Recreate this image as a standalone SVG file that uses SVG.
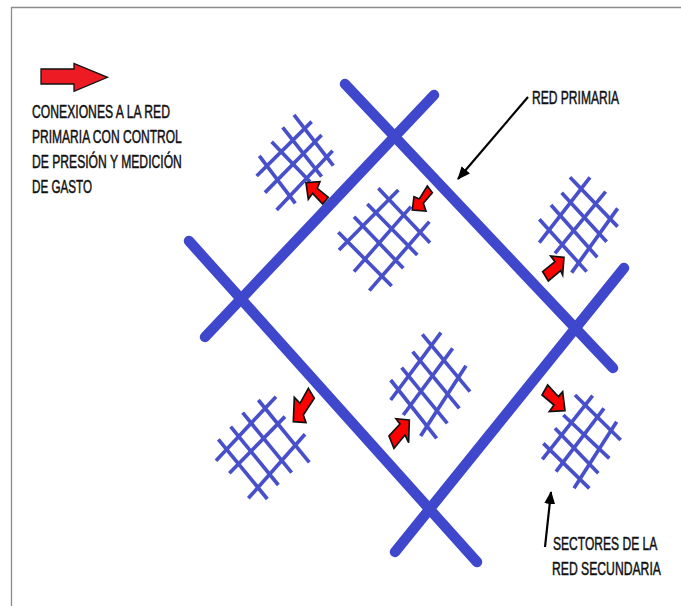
<svg xmlns="http://www.w3.org/2000/svg" width="681" height="606" viewBox="0 0 681 606">
<style>
.main{stroke:#3f48cc;stroke-width:10.500;stroke-linecap:round;fill:none}
.grid line{stroke:#474fca;stroke-width:11;stroke-linecap:butt}
.red{fill:#ff0000;stroke:#111;stroke-width:5;stroke-linejoin:miter}
.call{stroke:#000;stroke-width:2.200;fill:none;marker-end:url(#ah)}
text{font-family:"Liberation Sans",Arial,sans-serif;font-size:19px;fill:#111;stroke:#111;stroke-width:.5}
</style>
<defs>
<marker id="ah" markerUnits="userSpaceOnUse" markerWidth="14" markerHeight="12" refX="12" refY="5.500" orient="auto"><path d="M0 0L13 5.500L0 11Z" fill="#000"/></marker>
</defs>
<rect width="681" height="606" fill="#fff"/>
<path d="M11.500 606V7.500H681" fill="none" stroke="#8c8c8c" stroke-width="1.300"/>
<g id="connectors">
<line class="main" x1="345" y1="84" x2="613" y2="368"/>
<line class="main" x1="205" y1="337" x2="434" y2="95"/>
<line class="main" x1="189" y1="241" x2="477" y2="562"/>
<line class="main" x1="395" y1="552" x2="624" y2="268"/>
<line class="call" x1="528" y1="97" x2="458" y2="179"/>
<line class="call" x1="545" y1="547" x2="551" y2="492"/>
</g>
<g id="sector-1" class="grid" transform="scale(.3333)">
<line x1="882" y1="345" x2="1000" y2="497"/><line x1="848" y1="382" x2="965" y2="530"/><line x1="815" y1="425" x2="930" y2="545"/><line x1="778" y1="468" x2="886" y2="610"/>
<line x1="770" y1="528" x2="935" y2="365"/><line x1="795" y1="578" x2="965" y2="405"/><line x1="830" y1="630" x2="998" y2="452"/>
</g>
<g id="sector-2" class="grid" transform="translate(340 0) scale(.3333)">
<line x1="115" y1="565" x2="270" y2="728"/><line x1="82" y1="612" x2="232" y2="765"/><line x1="42" y1="650" x2="190" y2="805"/><line x1="-5" y1="697" x2="155" y2="858"/>
<line x1="-3" y1="750" x2="175" y2="570"/><line x1="42" y1="815" x2="213" y2="620"/><line x1="88" y1="872" x2="268" y2="665"/>
</g>
<g id="sector-3" class="grid" transform="translate(340 0) scale(.3333)">
<line x1="690" y1="532" x2="833" y2="680"/><line x1="665" y1="578" x2="800" y2="725"/><line x1="633" y1="615" x2="772" y2="772"/><line x1="598" y1="658" x2="740" y2="815"/>
<line x1="598" y1="728" x2="750" y2="532"/><line x1="645" y1="760" x2="797" y2="575"/><line x1="695" y1="818" x2="833" y2="625"/>
</g>
<g id="sector-4" class="grid" transform="translate(170 300) scale(.3333)">
<line x1="757" y1="103" x2="900" y2="275"/><line x1="728" y1="155" x2="868" y2="325"/><line x1="695" y1="203" x2="832" y2="370"/><line x1="662" y1="240" x2="800" y2="415"/>
<line x1="662" y1="300" x2="813" y2="98"/><line x1="700" y1="345" x2="848" y2="145"/><line x1="752" y1="408" x2="888" y2="197"/>
</g>
<g id="sector-5" class="grid" transform="translate(170 300) scale(.3333)">
<line x1="265" y1="300" x2="418" y2="487"/><line x1="218" y1="338" x2="365" y2="518"/><line x1="182" y1="380" x2="325" y2="555"/><line x1="145" y1="418" x2="292" y2="597"/>
<line x1="138" y1="482" x2="318" y2="290"/><line x1="178" y1="520" x2="345" y2="350"/><line x1="235" y1="595" x2="405" y2="403"/>
</g>
<g id="sector-6" class="grid" transform="translate(480 340) scale(.3333)">
<line x1="285" y1="165" x2="422" y2="300"/><line x1="250" y1="225" x2="388" y2="355"/><line x1="225" y1="265" x2="355" y2="400"/><line x1="190" y1="310" x2="328" y2="445"/>
<line x1="187" y1="358" x2="338" y2="167"/><line x1="228" y1="395" x2="372" y2="205"/><line x1="282" y1="445" x2="410" y2="245"/>
</g>
<g id="valve-1" transform="scale(.3333)"><polygon class="red" points="918,548 960,545 952,565 985,592 968,612 938,580 925,598"/></g>
<g id="valve-2" transform="translate(340 0) scale(.3333)"><polygon class="red" points="217,630 222,590 238,597 262,558 277,578 250,610 258,633"/></g>
<g id="valve-3" transform="translate(340 0) scale(.3333)"><polygon class="red" points="672,772 632,768 645,785 608,815 625,843 662,812 668,825"/></g>
<g id="valve-4" transform="translate(170 300) scale(.3333)"><polygon class="red" points="370,365 373,292 390,310 415,265 433,295 400,345 408,368"/></g>
<g id="valve-5" transform="translate(170 300) scale(.3333)"><polygon class="red" points="718,360 678,356 690,372 657,408 672,445 705,405 716,428"/></g>
<g id="valve-6" transform="translate(480 340) scale(.3333)"><polygon class="red" points="255,212 208,215 222,195 186,165 203,135 235,170 248,155"/></g>
<g id="legend-arrow"><polygon points="41,69 74,69 74,63.500 107.500,77.300 74,91.300 74,84 41,84" fill="#ed1c24" stroke="#111" stroke-width="1.300"/></g>
<g id="legend-label">
<text transform="translate(32 118) scale(.66 1)" textLength="209" lengthAdjust="spacingAndGlyphs">CONEXIONES A LA RED</text>
<text transform="translate(32 143) scale(.66 1)" textLength="227" lengthAdjust="spacingAndGlyphs">PRIMARIA CON CONTROL</text>
<text transform="translate(32 168) scale(.66 1)" textLength="227" lengthAdjust="spacingAndGlyphs">DE PRESIÓN Y MEDICIÓN</text>
<text transform="translate(32 193) scale(.66 1)" textLength="91" lengthAdjust="spacingAndGlyphs">DE GASTO</text>
</g>
<g id="primary-label"><text transform="translate(532 104) scale(.66 1)" textLength="132" lengthAdjust="spacingAndGlyphs">RED PRIMARIA</text></g>
<g id="secondary-label">
<text transform="translate(553 550) scale(.66 1)" textLength="158" lengthAdjust="spacingAndGlyphs">SECTORES DE LA</text>
<text transform="translate(552 575) scale(.66 1)" textLength="165" lengthAdjust="spacingAndGlyphs">RED SECUNDARIA</text>
</g>
</svg>
